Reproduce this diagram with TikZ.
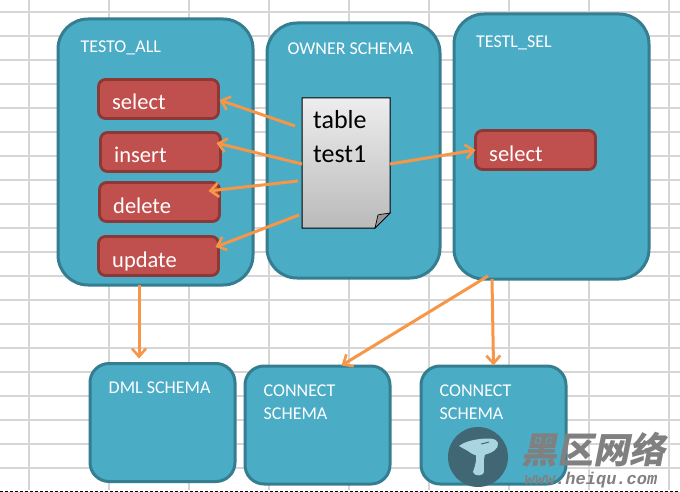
\documentclass[tikz,border=0pt]{standalone}
\usepackage{fontspec}
\setmainfont{Carlito}
\newfontfamily\cjkwm[FakeSlant=0.2]{Noto Sans CJK SC}
\newfontfamily\wmmono{Liberation Mono}
\usetikzlibrary{arrows.meta,calc}
\definecolor{gridc}{HTML}{D6D6D6}
\definecolor{tealf}{HTML}{4BACC6}
\definecolor{teals}{HTML}{357D91}
\definecolor{redf}{HTML}{C0504D}
\definecolor{reds}{HTML}{8C3836}
\definecolor{orangec}{HTML}{F79646}
\definecolor{wmdisc}{HTML}{416674}
\definecolor{wmcap}{HTML}{A9D5E0}
\tikzset{
  x=1pt,y=-1pt,
  schemabox/.style={draw=teals,fill=tealf,line width=3pt,rounded corners=#1,inner sep=0pt,outer sep=0pt},
  privbox/.style={draw=reds,fill=redf,line width=2.8pt,rounded corners=7pt,minimum width=120pt,minimum height=39pt,inner sep=0pt,outer sep=0pt},
  schematext/.style={text=white,font=\fontsize{18}{23}\selectfont,anchor=base west,inner sep=0pt,align=left},
  privtext/.style={text=white,font=\fontsize{22.5}{24}\selectfont,anchor=base west,inner sep=0pt},
  arr/.style={draw=orangec,line width=3pt,-{Straight Barb[length=8pt,width=14pt,line width=2.6pt]}},
}
\begin{document}
\begin{tikzpicture}
\useasboundingbox (0,0) rectangle (680,492);
\fill[white] (0,0) rectangle (680,492);
% spreadsheet grid
\foreach \gx in {29,109,189,269,349,429,509,589,669}
  \draw[gridc,line width=1.2pt] (\gx,0) -- (\gx,490);
\foreach \gy in {12,36,60,84,108,132,156,180,204,228,252,276,300,324,348,372,396,420,444,468}
  \draw[gridc,line width=1.2pt] (0,\gy) -- (680,\gy);
\coordinate (dl) at (0,491);
\coordinate (dr) at (680,491);
\draw[black,line width=.8pt,dash pattern=on 3pt off 2pt] (dl) -- (dr);
% schema boxes
\node[schemabox=30pt,minimum width=195pt,minimum height=266pt] (all) at (155.5,152) {};
\node[schemabox=30pt,minimum width=173pt,minimum height=255pt] (owner) at (353.5,150.5) {};
\node[schemabox=30pt,minimum width=195pt,minimum height=265pt] (sel) at (551.5,146.5) {};
\node[schemabox=19pt,minimum width=145pt,minimum height=118pt] (dml) at (162.5,422.5) {};
\node[schemabox=19pt,minimum width=145pt,minimum height=118pt] (conna) at (317.5,425) {};
\node[schemabox=19pt,minimum width=145pt,minimum height=118pt] (connb) at (493.5,425) {};
% schema captions
\node[schematext] (talltxt) at (80.5,53) {TESTO\_ALL};
\node[schematext] (townertxt) at (287.5,55) {OWNER SCHEMA};
\node[schematext] (tseltxt) at (476,48) {TESTL\_SEL};
\node[schematext] (tdml) at (108.5,393) {DML SCHEMA};
\node[schematext] (tconna1) at (263.5,396) {CONNECT};
\node[schematext] (tconna2) at (263.5,419) {SCHEMA};
\node[schematext] (tconnb1) at (439.5,396) {CONNECT};
\node[schematext] (tconnb2) at (439.5,419) {SCHEMA};
% privileges
\node[privbox] (psel) at (158.5,99) {};
\node[privbox] (pins) at (160.5,152) {};
\node[privbox] (pdel) at (159.5,202) {};
\node[privbox] (pupd) at (158.5,256) {};
\node[privbox] (psela) at (535.5,150) {};
\node[privtext] (tsel) at (112,110) {select};
\node[privtext] (tins) at (114,163) {insert};
\node[privtext] (tdel) at (113,213) {delete};
\node[privtext] (tupd) at (112,267) {update};
\node[privtext] (tsela) at (489,161) {select};
% table sheet
\node[minimum width=88pt,minimum height=130pt,inner sep=0pt,outer sep=0pt] (doc) at (346,163) {};
\shade[top color=black!7,bottom color=black!27,draw=black,line width=1pt]
  (doc.north west) -- (doc.north east) -- ([yshift=15pt]doc.south east)
  -- ([xshift=-15pt]doc.south east) -- (doc.south west) -- cycle;
\fill[black!40,draw=black,line width=.7pt]
  ([yshift=15pt]doc.south east) .. controls ([xshift=-5pt,yshift=14pt]doc.south east) and ([xshift=-9pt,yshift=14pt]doc.south east) .. ([xshift=-12pt,yshift=13pt]doc.south east)
  -- ([xshift=-15pt]doc.south east) -- cycle;
\node[text=black,font=\fontsize{26}{33}\selectfont,anchor=base west,inner sep=0pt] (doctxt) at (313,129) {table};
\node[text=black,font=\fontsize{26}{33}\selectfont,anchor=base west,inner sep=0pt] (doctxtb) at (313,162) {test1};
% connectors
\draw[arr] ([xshift=-7pt,yshift=37pt]doc.west) -- ([xshift=1pt,yshift=-1pt]psel.east);
\draw[arr] ([yshift=-1pt]doc.west) -- ([xshift=-4pt,yshift=9pt]pins.east);
\draw[arr] ([xshift=-4pt,yshift=-18pt]doc.west) -- ([xshift=-11pt,yshift=11pt]pdel.east);
\draw[arr] ([xshift=-3pt,yshift=-52pt]doc.west) -- ([xshift=-3pt,yshift=9pt]pupd.east);
\draw[arr] ([yshift=-1pt]doc.east) -- (psela.west);
\draw[arr] ([xshift=-16.5pt]all.south) -- ([xshift=-23.5pt,yshift=5pt]dml.north);
\draw[arr] ([xshift=-63.5pt,yshift=3pt]sel.south) -- ([xshift=24pt,yshift=.5pt]conna.north);
\draw[arr] ([xshift=-59.5pt]sel.south) -- ([yshift=.5pt]connb.north);
% watermark
\node[circle,fill=wmdisc,minimum size=60pt,inner sep=0pt] (wmc) at (478,457) {};
\begin{scope}[shift={(wmc.center)}]
\fill[wmcap] (-2,-3) -- (7,-3) .. controls (5,4) and (6,10) .. (6,15)
  .. controls (6,19) and (-4,20) .. (-5,15) .. controls (-3,9) and (-1,3) .. (-2,-3) -- cycle;
\fill[wmcap] (-19,-11) .. controls (-14,-15) and (-6,-17) .. (2,-18)
  .. controls (10,-19) and (19,-19) .. (20,-14)
  .. controls (21,-8) and (14,-4) .. (6,-2)
  .. controls (-2,0) and (-6,-3) .. (-10,-6) .. controls (-13,-8) and (-16,-9) .. (-19,-11) -- cycle;
\draw[wmdisc,line width=1pt] (3,-13) .. controls (6,-14) and (9,-14) .. (11,-15);
\end{scope}
\node[text=black!50,font=\cjkwm\bfseries\fontsize{36}{36}\selectfont,inner sep=0pt,anchor=center] (wmt) at (593,449.5) {黑区网络};
\node[text=black!50,font=\wmmono\bfseries\itshape\fontsize{17}{17}\selectfont,inner sep=0pt,anchor=base] (wmu) at (591,484) {www.heiqu.com};
\end{tikzpicture}
\end{document}
